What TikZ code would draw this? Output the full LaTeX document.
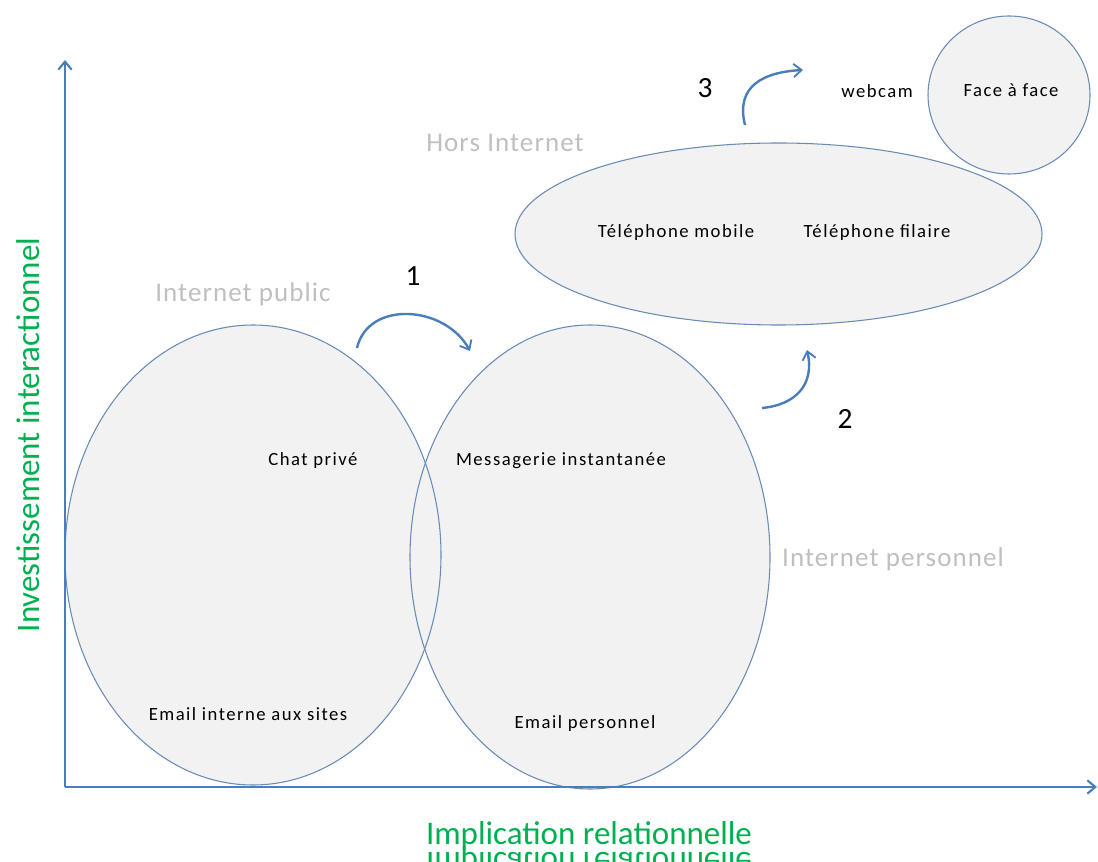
\documentclass[tikz,border=0pt]{standalone}
\usepackage{fontspec}
\setmainfont{Carlito}
\newfontfamily\smallspaced[LetterSpace=8]{Carlito}
\newfontfamily\grayspaced[LetterSpace=4]{Carlito}
\usetikzlibrary{arrows.meta}
\definecolor{axisblue}{HTML}{4A7EBB}
\definecolor{ellfill}{HTML}{F2F2F2}
\definecolor{elledge}{HTML}{6A8BB5}
\definecolor{labgreen}{HTML}{00B050}
\definecolor{labgray}{HTML}{BFBFBF}
\tikzset{
  zone/.style={fill=ellfill},
  zoneedge/.style={draw=elledge, line width=0.8pt},
  axisline/.style={draw=axisblue, line width=2.2pt, -{Straight Barb[length=6pt,width=10pt,line width=1.6pt]}},
  curvearrow/.style={draw=axisblue, line width=1.8pt, -{Straight Barb[length=6pt,width=10pt,line width=1.4pt]}},
  item/.style={font=\smallspaced\fontsize{14}{16}\selectfont, text=black, anchor=base, inner sep=0pt},
  zonelabel/.style={font=\grayspaced\fontsize{20.25}{24}\selectfont, text=labgray, anchor=base, inner sep=0pt},
  axislabel/.style={font=\fontsize{24.75}{28}\selectfont, text=labgreen, inner sep=0pt},
  stepnumber/.style={font=\fontsize{22}{24}\selectfont, text=black, anchor=base, inner sep=0pt}
}
\begin{document}
\begin{tikzpicture}[x=0.75pt,y=-0.75pt]
\useasboundingbox (0,0) rectangle (1098,862);
\clip (0,0) rectangle (1098,862);
% zones (fills first, then outlines)
\path[zone] (253,555) ellipse [x radius=188, y radius=230];
\path[zone] (590,557) ellipse [x radius=180, y radius=232];
\path[zone] (778.5,234) ellipse [x radius=263.5, y radius=91];
\path[zone] (1009,95) ellipse [x radius=81, y radius=79];
\path[zoneedge] (253,555) ellipse [x radius=188, y radius=230];
\path[zoneedge] (590,557) ellipse [x radius=180, y radius=232];
\path[zoneedge] (778.5,234) ellipse [x radius=263.5, y radius=91];
\path[zoneedge] (1009,95) ellipse [x radius=81, y radius=79];
% axes
\coordinate (O) at (65,787);
\coordinate (ytop) at (65,60);
\coordinate (xend) at (1097,787);
\path[axisline] (O) -- (ytop);
\path[axisline] (O) -- (xend);
% axis labels
\node[axislabel, rotate=90] (ylab) at (28,435) {Investissement interactionnel};
\node[axislabel, anchor=base] (xlab) at (589,844) {Implication relationnelle};
\node[axislabel, anchor=base, yscale=-1, transform shape] (xlabrefl) at (589,852) {Implication relationnelle};
% zone labels
\node[zonelabel] (hors) at (505,152) {Hors Internet};
\node[zonelabel] (public) at (243,302) {Internet public};
\node[zonelabel] (perso) at (893,566) {Internet personnel};
% items
\node[item] (chat) at (313,465) {Chat privé};
\node[item] (msg) at (561,465) {Messagerie instantanée};
\node[item] (emailint) at (248,720) {Email interne aux sites};
\node[item] (emailperso) at (585,728) {Email personnel};
\node[item] (telmob) at (676,238) {Téléphone mobile};
\node[item] (telfil) at (877,238) {Téléphone filaire};
\node[item] (face) at (1011,97) {Face à face};
\node[item] (webcam) at (877,98) {webcam};
% step numbers
\node[stepnumber] (n1) at (413,286) {1};
\node[stepnumber] (n2) at (845,428) {2};
\node[stepnumber] (n3) at (705,98) {3};
% curved arrows
\coordinate (a1s) at (357,348);
\coordinate (a1e) at (470,351);
\path[curvearrow] (a1s) .. controls (368,300) and (445,305) .. (a1e);
\coordinate (a2s) at (762,408);
\coordinate (a2e) at (807,350);
\path[curvearrow] (a2s) .. controls (795,405) and (815,385) .. (a2e);
\coordinate (a3s) at (745,125);
\coordinate (a3e) at (803,70);
\path[curvearrow] (a3s) .. controls (735,85) and (765,72) .. (a3e);
\end{tikzpicture}
\end{document}
